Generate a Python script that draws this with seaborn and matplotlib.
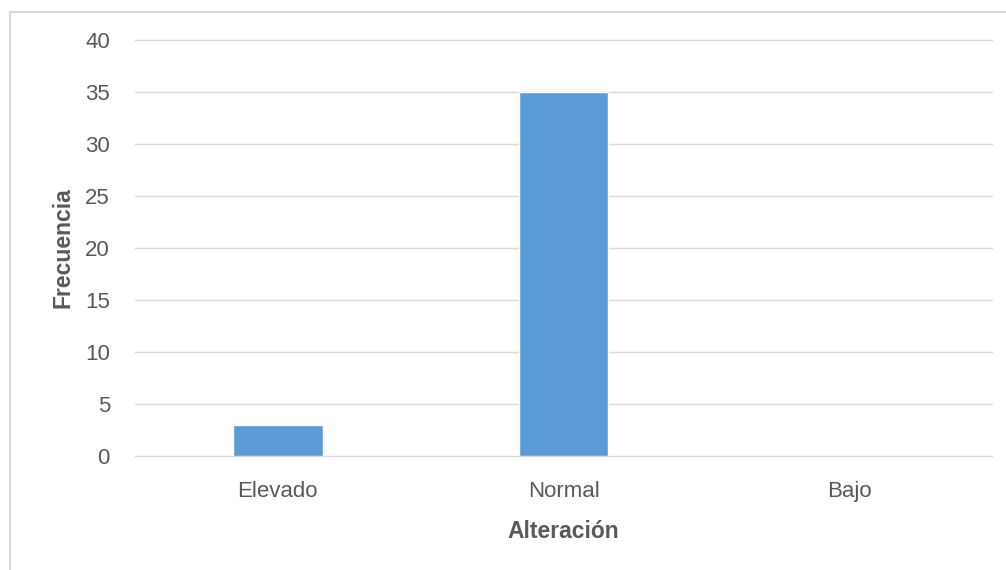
import matplotlib
matplotlib.use("Agg")
import matplotlib.pyplot as plt
from matplotlib.patches import Rectangle
import seaborn as sns
import pandas as pd

categories = ["Elevado", "Normal", "Bajo"]
frecuencia = [3, 35, 0]
y_ticks = [0, 5, 10, 15, 20, 25, 30, 35, 40]

df = pd.DataFrame({"Alteración": categories, "Frecuencia": frecuencia})

sns.set_style("white")
plt.rcParams["font.family"] = ["Liberation Sans", "DejaVu Sans"]

text_color = "#595959"
grid_color = "#d9d9d9"

fig = plt.figure(figsize=(10.06, 5.70), dpi=100)
ax = fig.add_axes([135 / 1006, 1 - 456 / 570, (992 - 135) / 1006, (456 - 40) / 570])

sns.barplot(data=df, x="Alteración", y="Frecuencia", color="#5b9bd5",
            width=0.315, saturation=1, ax=ax, zorder=3)

ax.set_xlim(-0.5, 2.5)
ax.set_ylim(0, 40)
ax.set_yticks(y_ticks)
ax.yaxis.grid(True, color=grid_color, linewidth=1.0, zorder=0)
for gl in ax.get_ygridlines():
    gl.set_clip_on(False)
ax.set_axisbelow(True)
for s in ax.spines.values():
    s.set_visible(False)

ax.tick_params(axis="both", length=0, colors=text_color, labelsize=16)
ax.tick_params(axis="y", pad=18)
ax.tick_params(axis="x", pad=18)

ax.set_xlabel("Alteración", fontsize=16.5, fontweight="bold", color=text_color, labelpad=13)
ax.set_ylabel("Frecuencia", fontsize=16.5, fontweight="bold", color=text_color, labelpad=8)

# outer chart frame
fig.patches.append(Rectangle((10 / 1006, -0.1), 1.2, 1 - 12 / 570 + 0.1,
                             transform=fig.transFigure, fill=False,
                             edgecolor="#d9d9d9", linewidth=1.5))

fig.savefig("out.png", dpi=100, facecolor="white")
